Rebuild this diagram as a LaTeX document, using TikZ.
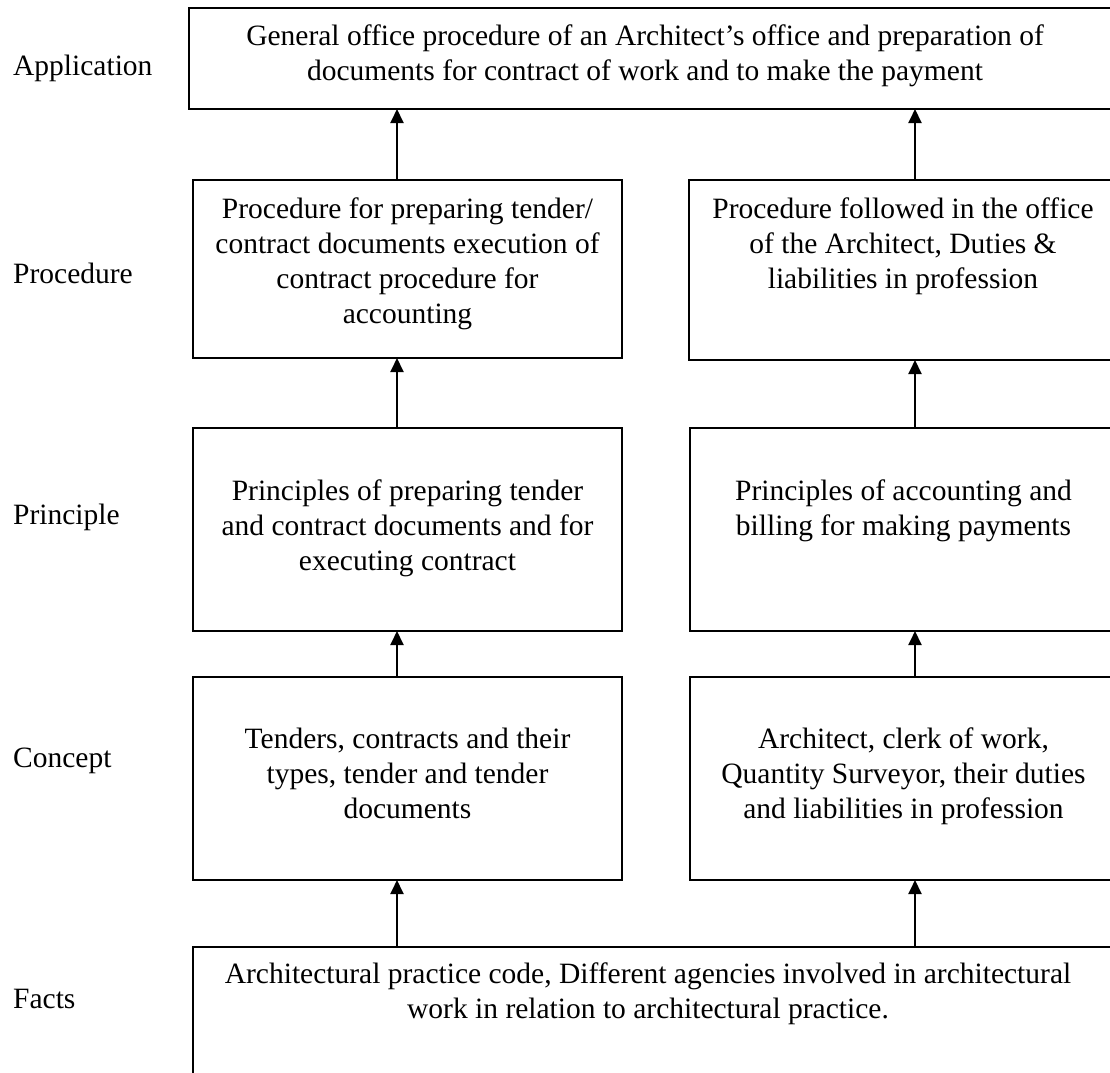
\documentclass[tikz,border=0pt]{standalone}
\usepackage{fontspec}
\setmainfont{Liberation Serif}
\usetikzlibrary{arrows.meta}

\newcommand{\bodyfont}{\fontsize{29.5}{35}\selectfont}
\newcommand{\firstline}{\rule{0pt}{24pt}}

\tikzset{
  box/.style={draw, line width=2pt, rectangle, inner sep=0pt, outer sep=0pt},
  txt/.style={font=\bodyfont, align=center, inner sep=0pt, anchor=north},
  side/.style={font=\bodyfont, inner sep=0pt, anchor=base west},
  up/.style={line width=2pt, -{Triangle[length=14pt,width=13pt]}}
}

\begin{document}
\begin{tikzpicture}[x=1pt, y=-1pt]
  \useasboundingbox (0,0) rectangle (1110,1072);
  \clip (0,0) rectangle (1110,1072);

  % level frames
  \node[box, minimum width=936pt, minimum height=101pt] (app)   at (657,58.5) {};
  \node[box, minimum width=429pt, minimum height=178pt] (procL) at (407.5,269) {};
  \node[box, minimum width=428pt, minimum height=180pt] (procR) at (903,270) {};
  \node[box, minimum width=429pt, minimum height=203pt] (prinL) at (407.5,529.5) {};
  \node[box, minimum width=427pt, minimum height=203pt] (prinR) at (903.5,529.5) {};
  \node[box, minimum width=429pt, minimum height=203pt] (concL) at (407.5,778.5) {};
  \node[box, minimum width=427pt, minimum height=203pt] (concR) at (903.5,778.5) {};
  \node[box, minimum width=932pt, minimum height=153pt] (facts) at (659,1023.5) {};

  % box texts
  \node[txt] (tapp) at (645,21) {\firstline General office procedure of an Architect’s office and preparation of\\documents for contract of work and to make the payment};
  \node[txt] (tprocL) at (407.5,194) {\firstline Procedure for preparing tender/\\contract documents execution of\\contract procedure for\\accounting};
  \node[txt] (tprocR) at (903,194) {\firstline Procedure followed in the office\\of the Architect, Duties \&\\liabilities in profession};
  \node[txt] (tprinL) at (407.5,476) {\firstline Principles of preparing tender\\and contract documents and for\\executing contract};
  \node[txt] (tprinR) at (903.5,476) {\firstline Principles of accounting and\\billing for making payments};
  \node[txt] (tconcL) at (407.5,724) {\firstline Tenders, contracts and their\\types, tender and tender\\documents};
  \node[txt] (tconcR) at (903.5,724) {\firstline Architect, clerk of work,\\Quantity Surveyor, their duties\\and liabilities in profession};
  \node[txt] (tfacts) at (648,959) {\firstline Architectural practice code, Different agencies involved in architectural\\work in relation to architectural practice.};

  % level names
  \node[side] (lapp)  at (13,75)   {Application};
  \node[side] (lproc) at (13,283)  {Procedure};
  \node[side] (lprin) at (13,524)  {Principle};
  \node[side] (lconc) at (13,767)  {Concept};
  \node[side] (lfact) at (13,1008) {Facts};

  % connectors
  \coordinate (xl) at (397,0);
  \coordinate (xr) at (915,0);
  \draw[up] (facts.north -| xl) -- (concL.south -| xl);
  \draw[up] (facts.north -| xr) -- (concR.south -| xr);
  \draw[up] (concL.north -| xl) -- (prinL.south -| xl);
  \draw[up] (concR.north -| xr) -- (prinR.south -| xr);
  \draw[up] (prinL.north -| xl) -- (procL.south -| xl);
  \draw[up] (prinR.north -| xr) -- (procR.south -| xr);
  \draw[up] (procL.north -| xl) -- (app.south -| xl);
  \draw[up] (procR.north -| xr) -- (app.south -| xr);
\end{tikzpicture}
\end{document}
